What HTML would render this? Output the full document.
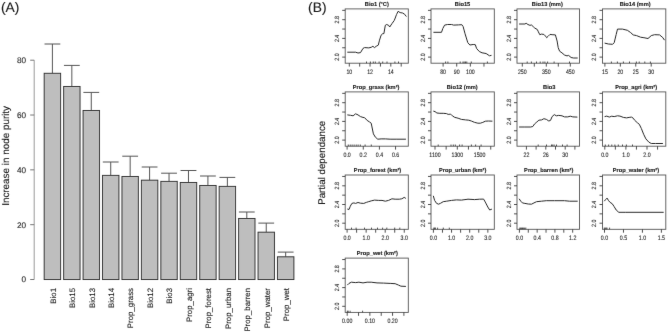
<!DOCTYPE html>
<html><head><meta charset="utf-8"><title>Figure</title>
<style>
html,body{margin:0;padding:0;background:#fff;}
body{width:668px;height:333px;overflow:hidden;}
svg{display:block;}
text{font-family:"Liberation Sans", sans-serif;text-rendering:geometricPrecision;stroke:currentColor;}
.S{stroke-width:0.12;}
.L{stroke-width:0.12;}
</style></head>
<body>
<svg width="668" height="333" viewBox="0 0 668 333" font-family='"Liberation Sans", sans-serif'>
<defs><filter id="b" x="0" y="0" width="668" height="333" filterUnits="userSpaceOnUse" primitiveUnits="userSpaceOnUse"><feConvolveMatrix order="3" kernelMatrix="0.00276 0.04704 0.00276 0.04704 0.80077 0.04704 0.00276 0.04704 0.00276" divisor="1" preserveAlpha="false" edgeMode="none"/></filter></defs>
<rect width="668" height="333" fill="#fff"/>
<g filter="url(#b)">
<text class="L" x="0.9" y="11.7" font-size="13.8" fill="#1a1a1a" color="#1a1a1a">(A)</text>
<text class="L" x="308.1" y="11.7" font-size="13.8" fill="#1a1a1a" color="#1a1a1a">(B)</text>
<line x1="34.2" y1="60.2" x2="34.2" y2="279.5" stroke="#9a9a9a" stroke-width="1"/>
<line x1="30.2" y1="279.5" x2="34.2" y2="279.5" stroke="#777" stroke-width="1"/>
<text class="L" x="26" y="282.4" font-size="8.2" text-anchor="end" fill="#2a2a2a" color="#2a2a2a">0</text>
<line x1="30.2" y1="224.68" x2="34.2" y2="224.68" stroke="#777" stroke-width="1"/>
<text class="L" x="26" y="227.58" font-size="8.2" text-anchor="end" fill="#2a2a2a" color="#2a2a2a">20</text>
<line x1="30.2" y1="169.85" x2="34.2" y2="169.85" stroke="#777" stroke-width="1"/>
<text class="L" x="26" y="172.75" font-size="8.2" text-anchor="end" fill="#2a2a2a" color="#2a2a2a">40</text>
<line x1="30.2" y1="115.03" x2="34.2" y2="115.03" stroke="#777" stroke-width="1"/>
<text class="L" x="26" y="117.93" font-size="8.2" text-anchor="end" fill="#2a2a2a" color="#2a2a2a">60</text>
<line x1="30.2" y1="60.2" x2="34.2" y2="60.2" stroke="#777" stroke-width="1"/>
<text class="L" x="26" y="63.1" font-size="8.2" text-anchor="end" fill="#2a2a2a" color="#2a2a2a">80</text>
<text class="L" transform="translate(9.2,155.9) rotate(-90)" font-size="9.9" text-anchor="middle" fill="#1a1a1a" color="#1a1a1a">Increase in node purity</text>
<line x1="52.4" y1="44" x2="52.4" y2="73.3" stroke="#555" stroke-width="1"/>
<line x1="44.5" y1="44" x2="60.3" y2="44" stroke="#555" stroke-width="1"/>
<rect x="44.2" y="73.3" width="16.4" height="206.2" fill="#bebebe" stroke="#333" stroke-width="1"/>
<text class="L" transform="translate(55.7,288.0) rotate(-90)" font-size="7.85" text-anchor="end" fill="#1a1a1a" color="#1a1a1a">Bio1</text>
<line x1="71.84" y1="65.4" x2="71.84" y2="86.5" stroke="#555" stroke-width="1"/>
<line x1="63.94" y1="65.4" x2="79.74" y2="65.4" stroke="#555" stroke-width="1"/>
<rect x="63.64" y="86.5" width="16.4" height="193" fill="#bebebe" stroke="#333" stroke-width="1"/>
<text class="L" transform="translate(75.14,288.0) rotate(-90)" font-size="7.85" text-anchor="end" fill="#1a1a1a" color="#1a1a1a">Bio15</text>
<line x1="91.28" y1="92.4" x2="91.28" y2="110.5" stroke="#555" stroke-width="1"/>
<line x1="83.38" y1="92.4" x2="99.18" y2="92.4" stroke="#555" stroke-width="1"/>
<rect x="83.08" y="110.5" width="16.4" height="169" fill="#bebebe" stroke="#333" stroke-width="1"/>
<text class="L" transform="translate(94.58,288.0) rotate(-90)" font-size="7.85" text-anchor="end" fill="#1a1a1a" color="#1a1a1a">Bio13</text>
<line x1="110.72" y1="162" x2="110.72" y2="175.4" stroke="#555" stroke-width="1"/>
<line x1="102.82" y1="162" x2="118.62" y2="162" stroke="#555" stroke-width="1"/>
<rect x="102.52" y="175.4" width="16.4" height="104.1" fill="#bebebe" stroke="#333" stroke-width="1"/>
<text class="L" transform="translate(114.02,288.0) rotate(-90)" font-size="7.85" text-anchor="end" fill="#1a1a1a" color="#1a1a1a">Bio14</text>
<line x1="130.16" y1="156.2" x2="130.16" y2="176.5" stroke="#555" stroke-width="1"/>
<line x1="122.26" y1="156.2" x2="138.06" y2="156.2" stroke="#555" stroke-width="1"/>
<rect x="121.96" y="176.5" width="16.4" height="103" fill="#bebebe" stroke="#333" stroke-width="1"/>
<text class="L" transform="translate(133.46,288.0) rotate(-90)" font-size="7.85" text-anchor="end" fill="#1a1a1a" color="#1a1a1a">Prop_grass</text>
<line x1="149.6" y1="167" x2="149.6" y2="180.2" stroke="#555" stroke-width="1"/>
<line x1="141.7" y1="167" x2="157.5" y2="167" stroke="#555" stroke-width="1"/>
<rect x="141.4" y="180.2" width="16.4" height="99.3" fill="#bebebe" stroke="#333" stroke-width="1"/>
<text class="L" transform="translate(152.9,288.0) rotate(-90)" font-size="7.85" text-anchor="end" fill="#1a1a1a" color="#1a1a1a">Bio12</text>
<line x1="169.04" y1="173.2" x2="169.04" y2="181.4" stroke="#555" stroke-width="1"/>
<line x1="161.14" y1="173.2" x2="176.94" y2="173.2" stroke="#555" stroke-width="1"/>
<rect x="160.84" y="181.4" width="16.4" height="98.1" fill="#bebebe" stroke="#333" stroke-width="1"/>
<text class="L" transform="translate(172.34,288.0) rotate(-90)" font-size="7.85" text-anchor="end" fill="#1a1a1a" color="#1a1a1a">Bio3</text>
<line x1="188.48" y1="170.5" x2="188.48" y2="182.5" stroke="#555" stroke-width="1"/>
<line x1="180.58" y1="170.5" x2="196.38" y2="170.5" stroke="#555" stroke-width="1"/>
<rect x="180.28" y="182.5" width="16.4" height="97" fill="#bebebe" stroke="#333" stroke-width="1"/>
<text class="L" transform="translate(191.78,288.0) rotate(-90)" font-size="7.85" text-anchor="end" fill="#1a1a1a" color="#1a1a1a">Prop_agri</text>
<line x1="207.92" y1="176" x2="207.92" y2="185.5" stroke="#555" stroke-width="1"/>
<line x1="200.02" y1="176" x2="215.82" y2="176" stroke="#555" stroke-width="1"/>
<rect x="199.72" y="185.5" width="16.4" height="94" fill="#bebebe" stroke="#333" stroke-width="1"/>
<text class="L" transform="translate(211.22,288.0) rotate(-90)" font-size="7.85" text-anchor="end" fill="#1a1a1a" color="#1a1a1a">Prop_forest</text>
<line x1="227.36" y1="177.4" x2="227.36" y2="186.4" stroke="#555" stroke-width="1"/>
<line x1="219.46" y1="177.4" x2="235.26" y2="177.4" stroke="#555" stroke-width="1"/>
<rect x="219.16" y="186.4" width="16.4" height="93.1" fill="#bebebe" stroke="#333" stroke-width="1"/>
<text class="L" transform="translate(230.66,288.0) rotate(-90)" font-size="7.85" text-anchor="end" fill="#1a1a1a" color="#1a1a1a">Prop_urban</text>
<line x1="246.8" y1="212" x2="246.8" y2="218.5" stroke="#555" stroke-width="1"/>
<line x1="238.9" y1="212" x2="254.7" y2="212" stroke="#555" stroke-width="1"/>
<rect x="238.6" y="218.5" width="16.4" height="61" fill="#bebebe" stroke="#333" stroke-width="1"/>
<text class="L" transform="translate(250.1,288.0) rotate(-90)" font-size="7.85" text-anchor="end" fill="#1a1a1a" color="#1a1a1a">Prop_barren</text>
<line x1="266.24" y1="223.1" x2="266.24" y2="232.2" stroke="#555" stroke-width="1"/>
<line x1="258.34" y1="223.1" x2="274.14" y2="223.1" stroke="#555" stroke-width="1"/>
<rect x="258.04" y="232.2" width="16.4" height="47.3" fill="#bebebe" stroke="#333" stroke-width="1"/>
<text class="L" transform="translate(269.54,288.0) rotate(-90)" font-size="7.85" text-anchor="end" fill="#1a1a1a" color="#1a1a1a">Prop_water</text>
<line x1="285.68" y1="252.1" x2="285.68" y2="256.8" stroke="#555" stroke-width="1"/>
<line x1="277.78" y1="252.1" x2="293.58" y2="252.1" stroke="#555" stroke-width="1"/>
<rect x="277.48" y="256.8" width="16.4" height="22.7" fill="#bebebe" stroke="#333" stroke-width="1"/>
<text class="L" transform="translate(288.98,288.0) rotate(-90)" font-size="7.85" text-anchor="end" fill="#1a1a1a" color="#1a1a1a">Prop_wet</text>
<text class="L" transform="translate(325.3,162.8) rotate(-90)" font-size="9.75" text-anchor="middle" fill="#1a1a1a" color="#1a1a1a">Partial dependance</text>
<text class="S" x="376.85" y="6" font-size="5.7" font-weight="bold" text-anchor="middle" fill="#1a1a1a" color="#1a1a1a">Bio1 (°C)</text>
<rect x="345.2" y="8.9" width="63.1" height="54.3" fill="none" stroke="#555" stroke-width="0.9"/>
<line x1="342.2" y1="57.1" x2="345.2" y2="57.1" stroke="#333" stroke-width="0.85"/>
<line x1="342.2" y1="47.75" x2="345.2" y2="47.75" stroke="#333" stroke-width="0.85"/>
<line x1="342.2" y1="38.4" x2="345.2" y2="38.4" stroke="#333" stroke-width="0.85"/>
<line x1="342.2" y1="29.05" x2="345.2" y2="29.05" stroke="#333" stroke-width="0.85"/>
<line x1="342.2" y1="19.7" x2="345.2" y2="19.7" stroke="#333" stroke-width="0.85"/>
<line x1="342.2" y1="10.35" x2="345.2" y2="10.35" stroke="#333" stroke-width="0.85"/>
<text class="S" transform="translate(338.9,57.1) rotate(-90) scale(0.86,1)" font-size="6.2" text-anchor="middle" fill="#2a2a2a" color="#2a2a2a">2.0</text>
<text class="S" transform="translate(338.9,38.4) rotate(-90) scale(0.86,1)" font-size="6.2" text-anchor="middle" fill="#2a2a2a" color="#2a2a2a">2.4</text>
<text class="S" transform="translate(338.9,19.7) rotate(-90) scale(0.86,1)" font-size="6.2" text-anchor="middle" fill="#2a2a2a" color="#2a2a2a">2.8</text>
<line x1="349.3" y1="63.2" x2="349.3" y2="66.6" stroke="#333" stroke-width="0.85"/>
<line x1="359.68" y1="63.2" x2="359.68" y2="66.6" stroke="#333" stroke-width="0.85"/>
<line x1="370.06" y1="63.2" x2="370.06" y2="66.6" stroke="#333" stroke-width="0.85"/>
<line x1="380.44" y1="63.2" x2="380.44" y2="66.6" stroke="#333" stroke-width="0.85"/>
<line x1="390.82" y1="63.2" x2="390.82" y2="66.6" stroke="#333" stroke-width="0.85"/>
<line x1="401.2" y1="63.2" x2="401.2" y2="66.6" stroke="#333" stroke-width="0.85"/>
<text class="S" transform="translate(349.3,73.6) scale(0.82,1)" font-size="6.4" text-anchor="middle" fill="#2a2a2a" color="#2a2a2a">10</text>
<text class="S" transform="translate(370.06,73.6) scale(0.82,1)" font-size="6.4" text-anchor="middle" fill="#2a2a2a" color="#2a2a2a">12</text>
<text class="S" transform="translate(390.82,73.6) scale(0.82,1)" font-size="6.4" text-anchor="middle" fill="#2a2a2a" color="#2a2a2a">14</text>
<line x1="366.5" y1="61.5" x2="366.5" y2="63.2" stroke="#2a2a2a" stroke-width="0.8"/>
<line x1="370.4" y1="61.5" x2="370.4" y2="63.2" stroke="#2a2a2a" stroke-width="0.8"/>
<line x1="373.3" y1="61.5" x2="373.3" y2="63.2" stroke="#2a2a2a" stroke-width="0.8"/>
<line x1="375.3" y1="61.5" x2="375.3" y2="63.2" stroke="#2a2a2a" stroke-width="0.8"/>
<line x1="379.1" y1="61.5" x2="379.1" y2="63.2" stroke="#2a2a2a" stroke-width="0.8"/>
<line x1="382.7" y1="61.5" x2="382.7" y2="63.2" stroke="#2a2a2a" stroke-width="0.8"/>
<line x1="387" y1="61.5" x2="387" y2="63.2" stroke="#2a2a2a" stroke-width="0.8"/>
<line x1="394.9" y1="61.5" x2="394.9" y2="63.2" stroke="#2a2a2a" stroke-width="0.8"/>
<line x1="398.5" y1="61.5" x2="398.5" y2="63.2" stroke="#2a2a2a" stroke-width="0.8"/>
<polyline points="347.3,52.2 355.6,52.2 358,53 360.5,52.6 363,48.4 364.6,47.6 368.8,47.9 371.2,47.3 372.9,46.3 374.5,47.6 376.2,46.3 378.3,45.1 379.5,40.2 381.1,35.2 382.8,33.6 383.9,33.6 385.3,25.3 386.6,24.5 388.6,25.3 389.7,27 391.9,23.7 394.3,20.4 396.5,14.6 398.1,11.3 400.1,12.6 402.6,13 404.7,14.3 406.4,16.6" fill="none" stroke="#2a2a2a" stroke-width="1" stroke-linejoin="round"/>
<text class="S" x="462.55" y="6" font-size="5.7" font-weight="bold" text-anchor="middle" fill="#1a1a1a" color="#1a1a1a">Bio15</text>
<rect x="431" y="8.9" width="63.3" height="54.3" fill="none" stroke="#555" stroke-width="0.9"/>
<line x1="428" y1="57.1" x2="431" y2="57.1" stroke="#333" stroke-width="0.85"/>
<line x1="428" y1="47.75" x2="431" y2="47.75" stroke="#333" stroke-width="0.85"/>
<line x1="428" y1="38.4" x2="431" y2="38.4" stroke="#333" stroke-width="0.85"/>
<line x1="428" y1="29.05" x2="431" y2="29.05" stroke="#333" stroke-width="0.85"/>
<line x1="428" y1="19.7" x2="431" y2="19.7" stroke="#333" stroke-width="0.85"/>
<line x1="428" y1="10.35" x2="431" y2="10.35" stroke="#333" stroke-width="0.85"/>
<text class="S" transform="translate(424.7,57.1) rotate(-90) scale(0.86,1)" font-size="6.2" text-anchor="middle" fill="#2a2a2a" color="#2a2a2a">2.0</text>
<text class="S" transform="translate(424.7,38.4) rotate(-90) scale(0.86,1)" font-size="6.2" text-anchor="middle" fill="#2a2a2a" color="#2a2a2a">2.4</text>
<text class="S" transform="translate(424.7,19.7) rotate(-90) scale(0.86,1)" font-size="6.2" text-anchor="middle" fill="#2a2a2a" color="#2a2a2a">2.8</text>
<line x1="443.1" y1="63.2" x2="443.1" y2="66.6" stroke="#333" stroke-width="0.85"/>
<line x1="456.72" y1="63.2" x2="456.72" y2="66.6" stroke="#333" stroke-width="0.85"/>
<line x1="470.34" y1="63.2" x2="470.34" y2="66.6" stroke="#333" stroke-width="0.85"/>
<line x1="483.96" y1="63.2" x2="483.96" y2="66.6" stroke="#333" stroke-width="0.85"/>
<text class="S" transform="translate(443.1,73.6) scale(0.82,1)" font-size="6.4" text-anchor="middle" fill="#2a2a2a" color="#2a2a2a">80</text>
<text class="S" transform="translate(456.72,73.6) scale(0.82,1)" font-size="6.4" text-anchor="middle" fill="#2a2a2a" color="#2a2a2a">90</text>
<text class="S" transform="translate(470.34,73.6) scale(0.82,1)" font-size="6.4" text-anchor="middle" fill="#2a2a2a" color="#2a2a2a">100</text>
<line x1="445.6" y1="61.5" x2="445.6" y2="63.2" stroke="#2a2a2a" stroke-width="0.8"/>
<line x1="447.9" y1="61.5" x2="447.9" y2="63.2" stroke="#2a2a2a" stroke-width="0.8"/>
<line x1="460.2" y1="61.5" x2="460.2" y2="63.2" stroke="#2a2a2a" stroke-width="0.8"/>
<line x1="463" y1="61.5" x2="463" y2="63.2" stroke="#2a2a2a" stroke-width="0.8"/>
<line x1="464.2" y1="61.5" x2="464.2" y2="63.2" stroke="#2a2a2a" stroke-width="0.8"/>
<line x1="465.5" y1="61.5" x2="465.5" y2="63.2" stroke="#2a2a2a" stroke-width="0.8"/>
<line x1="466.8" y1="61.5" x2="466.8" y2="63.2" stroke="#2a2a2a" stroke-width="0.8"/>
<line x1="471.3" y1="61.5" x2="471.3" y2="63.2" stroke="#2a2a2a" stroke-width="0.8"/>
<line x1="487.4" y1="61.5" x2="487.4" y2="63.2" stroke="#2a2a2a" stroke-width="0.8"/>
<polyline points="433.4,32.3 441.5,32.3 442.8,28.5 444.6,25.1 447.6,24.5 451.6,24.5 453.6,25.1 458.4,24.9 461.8,24.7 463.1,26.5 465.1,33.9 467.8,42.7 469.9,45 473.2,44.5 475.3,44.7 476.6,48.5 479.3,51.5 482,52.8 486.1,53.5 489.5,55.8 491.5,55.3" fill="none" stroke="#2a2a2a" stroke-width="1" stroke-linejoin="round"/>
<text class="S" x="547.35" y="6" font-size="5.7" font-weight="bold" text-anchor="middle" fill="#1a1a1a" color="#1a1a1a">Bio13 (mm)</text>
<rect x="517" y="8.9" width="62.5" height="54.3" fill="none" stroke="#555" stroke-width="0.9"/>
<line x1="514" y1="57.1" x2="517" y2="57.1" stroke="#333" stroke-width="0.85"/>
<line x1="514" y1="47.75" x2="517" y2="47.75" stroke="#333" stroke-width="0.85"/>
<line x1="514" y1="38.4" x2="517" y2="38.4" stroke="#333" stroke-width="0.85"/>
<line x1="514" y1="29.05" x2="517" y2="29.05" stroke="#333" stroke-width="0.85"/>
<line x1="514" y1="19.7" x2="517" y2="19.7" stroke="#333" stroke-width="0.85"/>
<line x1="514" y1="10.35" x2="517" y2="10.35" stroke="#333" stroke-width="0.85"/>
<text class="S" transform="translate(510.7,57.1) rotate(-90) scale(0.86,1)" font-size="6.2" text-anchor="middle" fill="#2a2a2a" color="#2a2a2a">2.0</text>
<text class="S" transform="translate(510.7,38.4) rotate(-90) scale(0.86,1)" font-size="6.2" text-anchor="middle" fill="#2a2a2a" color="#2a2a2a">2.4</text>
<text class="S" transform="translate(510.7,19.7) rotate(-90) scale(0.86,1)" font-size="6.2" text-anchor="middle" fill="#2a2a2a" color="#2a2a2a">2.8</text>
<line x1="522.3" y1="63.2" x2="522.3" y2="66.6" stroke="#333" stroke-width="0.85"/>
<line x1="534.3" y1="63.2" x2="534.3" y2="66.6" stroke="#333" stroke-width="0.85"/>
<line x1="546.3" y1="63.2" x2="546.3" y2="66.6" stroke="#333" stroke-width="0.85"/>
<line x1="558.3" y1="63.2" x2="558.3" y2="66.6" stroke="#333" stroke-width="0.85"/>
<line x1="570.3" y1="63.2" x2="570.3" y2="66.6" stroke="#333" stroke-width="0.85"/>
<text class="S" transform="translate(522.3,73.6) scale(0.82,1)" font-size="6.4" text-anchor="middle" fill="#2a2a2a" color="#2a2a2a">250</text>
<text class="S" transform="translate(546.3,73.6) scale(0.82,1)" font-size="6.4" text-anchor="middle" fill="#2a2a2a" color="#2a2a2a">350</text>
<text class="S" transform="translate(570.3,73.6) scale(0.82,1)" font-size="6.4" text-anchor="middle" fill="#2a2a2a" color="#2a2a2a">450</text>
<line x1="527.2" y1="61.5" x2="527.2" y2="63.2" stroke="#2a2a2a" stroke-width="0.8"/>
<line x1="531.4" y1="61.5" x2="531.4" y2="63.2" stroke="#2a2a2a" stroke-width="0.8"/>
<line x1="536.5" y1="61.5" x2="536.5" y2="63.2" stroke="#2a2a2a" stroke-width="0.8"/>
<line x1="540.2" y1="61.5" x2="540.2" y2="63.2" stroke="#2a2a2a" stroke-width="0.8"/>
<line x1="543" y1="61.5" x2="543" y2="63.2" stroke="#2a2a2a" stroke-width="0.8"/>
<line x1="544.9" y1="61.5" x2="544.9" y2="63.2" stroke="#2a2a2a" stroke-width="0.8"/>
<line x1="547.6" y1="61.5" x2="547.6" y2="63.2" stroke="#2a2a2a" stroke-width="0.8"/>
<line x1="554.1" y1="61.5" x2="554.1" y2="63.2" stroke="#2a2a2a" stroke-width="0.8"/>
<line x1="569.5" y1="61.5" x2="569.5" y2="63.2" stroke="#2a2a2a" stroke-width="0.8"/>
<polyline points="519.1,24 524.9,24 526.2,23.3 527.9,24.5 529.9,25.3 531.5,25 533.2,26.6 534.8,28.1 537.3,29.5 538.4,31.9 539.8,34.7 541.4,34.1 543.9,34.4 545.5,36.1 546.7,37.7 548,36.4 550,34.4 552.1,34.7 555.4,34.9 557.1,41 558.2,47.6 559.6,51.2 562,52.9 564.5,55 567,55.9 568.6,55.4 571.1,57.5 573.6,58 577.7,58" fill="none" stroke="#2a2a2a" stroke-width="1" stroke-linejoin="round"/>
<text class="S" x="635.15" y="6" font-size="5.7" font-weight="bold" text-anchor="middle" fill="#1a1a1a" color="#1a1a1a">Bio14 (mm)</text>
<rect x="602.5" y="8.9" width="63.3" height="54.3" fill="none" stroke="#555" stroke-width="0.9"/>
<line x1="599.5" y1="57.1" x2="602.5" y2="57.1" stroke="#333" stroke-width="0.85"/>
<line x1="599.5" y1="47.75" x2="602.5" y2="47.75" stroke="#333" stroke-width="0.85"/>
<line x1="599.5" y1="38.4" x2="602.5" y2="38.4" stroke="#333" stroke-width="0.85"/>
<line x1="599.5" y1="29.05" x2="602.5" y2="29.05" stroke="#333" stroke-width="0.85"/>
<line x1="599.5" y1="19.7" x2="602.5" y2="19.7" stroke="#333" stroke-width="0.85"/>
<line x1="599.5" y1="10.35" x2="602.5" y2="10.35" stroke="#333" stroke-width="0.85"/>
<text class="S" transform="translate(596.2,57.1) rotate(-90) scale(0.86,1)" font-size="6.2" text-anchor="middle" fill="#2a2a2a" color="#2a2a2a">2.0</text>
<text class="S" transform="translate(596.2,38.4) rotate(-90) scale(0.86,1)" font-size="6.2" text-anchor="middle" fill="#2a2a2a" color="#2a2a2a">2.4</text>
<text class="S" transform="translate(596.2,19.7) rotate(-90) scale(0.86,1)" font-size="6.2" text-anchor="middle" fill="#2a2a2a" color="#2a2a2a">2.8</text>
<line x1="604.9" y1="63.2" x2="604.9" y2="66.6" stroke="#333" stroke-width="0.85"/>
<line x1="620.33" y1="63.2" x2="620.33" y2="66.6" stroke="#333" stroke-width="0.85"/>
<line x1="635.77" y1="63.2" x2="635.77" y2="66.6" stroke="#333" stroke-width="0.85"/>
<line x1="651.2" y1="63.2" x2="651.2" y2="66.6" stroke="#333" stroke-width="0.85"/>
<text class="S" transform="translate(604.9,73.6) scale(0.82,1)" font-size="6.4" text-anchor="middle" fill="#2a2a2a" color="#2a2a2a">15</text>
<text class="S" transform="translate(620.33,73.6) scale(0.82,1)" font-size="6.4" text-anchor="middle" fill="#2a2a2a" color="#2a2a2a">20</text>
<text class="S" transform="translate(635.77,73.6) scale(0.82,1)" font-size="6.4" text-anchor="middle" fill="#2a2a2a" color="#2a2a2a">25</text>
<text class="S" transform="translate(651.2,73.6) scale(0.82,1)" font-size="6.4" text-anchor="middle" fill="#2a2a2a" color="#2a2a2a">30</text>
<line x1="611.4" y1="61.5" x2="611.4" y2="63.2" stroke="#2a2a2a" stroke-width="0.8"/>
<line x1="617.4" y1="61.5" x2="617.4" y2="63.2" stroke="#2a2a2a" stroke-width="0.8"/>
<line x1="623.4" y1="61.5" x2="623.4" y2="63.2" stroke="#2a2a2a" stroke-width="0.8"/>
<line x1="629.5" y1="61.5" x2="629.5" y2="63.2" stroke="#2a2a2a" stroke-width="0.8"/>
<line x1="636.4" y1="61.5" x2="636.4" y2="63.2" stroke="#2a2a2a" stroke-width="0.8"/>
<line x1="639.2" y1="61.5" x2="639.2" y2="63.2" stroke="#2a2a2a" stroke-width="0.8"/>
<line x1="644.8" y1="61.5" x2="644.8" y2="63.2" stroke="#2a2a2a" stroke-width="0.8"/>
<line x1="650.4" y1="61.5" x2="650.4" y2="63.2" stroke="#2a2a2a" stroke-width="0.8"/>
<polyline points="604.6,43.1 608.4,44 612.6,44.3 614.2,42.7 616.2,34.4 617.5,29.1 622.5,29.1 627.4,30.3 630.4,32.4 633.2,34.9 636.5,35.6 640.6,37.2 643.9,37.7 648,38.5 651.3,35.6 654.6,34.7 659.6,34.9 662.9,37.7 664.5,40.2" fill="none" stroke="#2a2a2a" stroke-width="1" stroke-linejoin="round"/>
<text class="S" x="376.05" y="89" font-size="5.7" font-weight="bold" text-anchor="middle" fill="#1a1a1a" color="#1a1a1a">Prop_grass (km²)</text>
<rect x="345.2" y="91.9" width="63.1" height="54.3" fill="none" stroke="#555" stroke-width="0.9"/>
<line x1="342.2" y1="140.1" x2="345.2" y2="140.1" stroke="#333" stroke-width="0.85"/>
<line x1="342.2" y1="130.75" x2="345.2" y2="130.75" stroke="#333" stroke-width="0.85"/>
<line x1="342.2" y1="121.4" x2="345.2" y2="121.4" stroke="#333" stroke-width="0.85"/>
<line x1="342.2" y1="112.05" x2="345.2" y2="112.05" stroke="#333" stroke-width="0.85"/>
<line x1="342.2" y1="102.7" x2="345.2" y2="102.7" stroke="#333" stroke-width="0.85"/>
<line x1="342.2" y1="93.35" x2="345.2" y2="93.35" stroke="#333" stroke-width="0.85"/>
<text class="S" transform="translate(338.9,140.1) rotate(-90) scale(0.86,1)" font-size="6.2" text-anchor="middle" fill="#2a2a2a" color="#2a2a2a">2.0</text>
<text class="S" transform="translate(338.9,121.4) rotate(-90) scale(0.86,1)" font-size="6.2" text-anchor="middle" fill="#2a2a2a" color="#2a2a2a">2.4</text>
<text class="S" transform="translate(338.9,102.7) rotate(-90) scale(0.86,1)" font-size="6.2" text-anchor="middle" fill="#2a2a2a" color="#2a2a2a">2.8</text>
<line x1="347.1" y1="146.2" x2="347.1" y2="149.6" stroke="#333" stroke-width="0.85"/>
<line x1="363.25" y1="146.2" x2="363.25" y2="149.6" stroke="#333" stroke-width="0.85"/>
<line x1="379.4" y1="146.2" x2="379.4" y2="149.6" stroke="#333" stroke-width="0.85"/>
<line x1="395.55" y1="146.2" x2="395.55" y2="149.6" stroke="#333" stroke-width="0.85"/>
<text class="S" transform="translate(347.1,156.6) scale(0.82,1)" font-size="6.4" text-anchor="middle" fill="#2a2a2a" color="#2a2a2a">0.0</text>
<text class="S" transform="translate(363.25,156.6) scale(0.82,1)" font-size="6.4" text-anchor="middle" fill="#2a2a2a" color="#2a2a2a">0.2</text>
<text class="S" transform="translate(379.4,156.6) scale(0.82,1)" font-size="6.4" text-anchor="middle" fill="#2a2a2a" color="#2a2a2a">0.4</text>
<text class="S" transform="translate(395.55,156.6) scale(0.82,1)" font-size="6.4" text-anchor="middle" fill="#2a2a2a" color="#2a2a2a">0.6</text>
<line x1="348.3" y1="144.5" x2="348.3" y2="146.2" stroke="#2a2a2a" stroke-width="0.8"/>
<line x1="350.2" y1="144.5" x2="350.2" y2="146.2" stroke="#2a2a2a" stroke-width="0.8"/>
<line x1="352.1" y1="144.5" x2="352.1" y2="146.2" stroke="#2a2a2a" stroke-width="0.8"/>
<line x1="354.1" y1="144.5" x2="354.1" y2="146.2" stroke="#2a2a2a" stroke-width="0.8"/>
<line x1="356.2" y1="144.5" x2="356.2" y2="146.2" stroke="#2a2a2a" stroke-width="0.8"/>
<line x1="358.1" y1="144.5" x2="358.1" y2="146.2" stroke="#2a2a2a" stroke-width="0.8"/>
<line x1="360.3" y1="144.5" x2="360.3" y2="146.2" stroke="#2a2a2a" stroke-width="0.8"/>
<line x1="365.1" y1="144.5" x2="365.1" y2="146.2" stroke="#2a2a2a" stroke-width="0.8"/>
<line x1="371.3" y1="144.5" x2="371.3" y2="146.2" stroke="#2a2a2a" stroke-width="0.8"/>
<polyline points="347.3,114.9 350.6,115.3 353.1,115.8 355.6,113.8 358,114.9 360.5,116.6 363,117.4 364.6,117.7 367.1,120.4 369.6,122 371.2,123.2 372.4,129 373.4,133.9 375.4,137.2 377.8,139.2 381.1,138.9 385.3,138.9 390.2,139.2 396.8,139.2 405.9,139.2" fill="none" stroke="#2a2a2a" stroke-width="1" stroke-linejoin="round"/>
<text class="S" x="462.25" y="89" font-size="5.7" font-weight="bold" text-anchor="middle" fill="#1a1a1a" color="#1a1a1a">Bio12 (mm)</text>
<rect x="431" y="91.9" width="63.3" height="54.3" fill="none" stroke="#555" stroke-width="0.9"/>
<line x1="428" y1="140.1" x2="431" y2="140.1" stroke="#333" stroke-width="0.85"/>
<line x1="428" y1="130.75" x2="431" y2="130.75" stroke="#333" stroke-width="0.85"/>
<line x1="428" y1="121.4" x2="431" y2="121.4" stroke="#333" stroke-width="0.85"/>
<line x1="428" y1="112.05" x2="431" y2="112.05" stroke="#333" stroke-width="0.85"/>
<line x1="428" y1="102.7" x2="431" y2="102.7" stroke="#333" stroke-width="0.85"/>
<line x1="428" y1="93.35" x2="431" y2="93.35" stroke="#333" stroke-width="0.85"/>
<text class="S" transform="translate(424.7,140.1) rotate(-90) scale(0.86,1)" font-size="6.2" text-anchor="middle" fill="#2a2a2a" color="#2a2a2a">2.0</text>
<text class="S" transform="translate(424.7,121.4) rotate(-90) scale(0.86,1)" font-size="6.2" text-anchor="middle" fill="#2a2a2a" color="#2a2a2a">2.4</text>
<text class="S" transform="translate(424.7,102.7) rotate(-90) scale(0.86,1)" font-size="6.2" text-anchor="middle" fill="#2a2a2a" color="#2a2a2a">2.8</text>
<line x1="435" y1="146.2" x2="435" y2="149.6" stroke="#333" stroke-width="0.85"/>
<line x1="446.15" y1="146.2" x2="446.15" y2="149.6" stroke="#333" stroke-width="0.85"/>
<line x1="457.3" y1="146.2" x2="457.3" y2="149.6" stroke="#333" stroke-width="0.85"/>
<line x1="468.45" y1="146.2" x2="468.45" y2="149.6" stroke="#333" stroke-width="0.85"/>
<line x1="479.6" y1="146.2" x2="479.6" y2="149.6" stroke="#333" stroke-width="0.85"/>
<line x1="490.75" y1="146.2" x2="490.75" y2="149.6" stroke="#333" stroke-width="0.85"/>
<text class="S" transform="translate(435,156.6) scale(0.82,1)" font-size="6.4" text-anchor="middle" fill="#2a2a2a" color="#2a2a2a">1100</text>
<text class="S" transform="translate(457.3,156.6) scale(0.82,1)" font-size="6.4" text-anchor="middle" fill="#2a2a2a" color="#2a2a2a">1300</text>
<text class="S" transform="translate(479.6,156.6) scale(0.82,1)" font-size="6.4" text-anchor="middle" fill="#2a2a2a" color="#2a2a2a">1500</text>
<line x1="438.2" y1="144.5" x2="438.2" y2="146.2" stroke="#2a2a2a" stroke-width="0.8"/>
<line x1="451" y1="144.5" x2="451" y2="146.2" stroke="#2a2a2a" stroke-width="0.8"/>
<line x1="453.3" y1="144.5" x2="453.3" y2="146.2" stroke="#2a2a2a" stroke-width="0.8"/>
<line x1="455.3" y1="144.5" x2="455.3" y2="146.2" stroke="#2a2a2a" stroke-width="0.8"/>
<line x1="459.6" y1="144.5" x2="459.6" y2="146.2" stroke="#2a2a2a" stroke-width="0.8"/>
<line x1="462.1" y1="144.5" x2="462.1" y2="146.2" stroke="#2a2a2a" stroke-width="0.8"/>
<line x1="471.4" y1="144.5" x2="471.4" y2="146.2" stroke="#2a2a2a" stroke-width="0.8"/>
<line x1="475.6" y1="144.5" x2="475.6" y2="146.2" stroke="#2a2a2a" stroke-width="0.8"/>
<line x1="481.1" y1="144.5" x2="481.1" y2="146.2" stroke="#2a2a2a" stroke-width="0.8"/>
<polyline points="433.3,111.1 435,111.6 436.9,113 439.9,113.3 443.2,113.3 446.5,113.6 448.2,114.4 450.6,114.1 452.3,115.8 454.8,117.4 458.1,118.2 461.4,119.4 465.5,119.9 468.8,120.2 471.3,121 474.6,122.4 477.9,123.2 480.3,123.2 482.8,122.4 485.3,121.2 488.6,121 492.4,121.2" fill="none" stroke="#2a2a2a" stroke-width="1" stroke-linejoin="round"/>
<text class="S" x="549.25" y="89" font-size="5.7" font-weight="bold" text-anchor="middle" fill="#1a1a1a" color="#1a1a1a">Bio3</text>
<rect x="517" y="91.9" width="62.5" height="54.3" fill="none" stroke="#555" stroke-width="0.9"/>
<line x1="514" y1="140.1" x2="517" y2="140.1" stroke="#333" stroke-width="0.85"/>
<line x1="514" y1="130.75" x2="517" y2="130.75" stroke="#333" stroke-width="0.85"/>
<line x1="514" y1="121.4" x2="517" y2="121.4" stroke="#333" stroke-width="0.85"/>
<line x1="514" y1="112.05" x2="517" y2="112.05" stroke="#333" stroke-width="0.85"/>
<line x1="514" y1="102.7" x2="517" y2="102.7" stroke="#333" stroke-width="0.85"/>
<line x1="514" y1="93.35" x2="517" y2="93.35" stroke="#333" stroke-width="0.85"/>
<text class="S" transform="translate(510.7,140.1) rotate(-90) scale(0.86,1)" font-size="6.2" text-anchor="middle" fill="#2a2a2a" color="#2a2a2a">2.0</text>
<text class="S" transform="translate(510.7,121.4) rotate(-90) scale(0.86,1)" font-size="6.2" text-anchor="middle" fill="#2a2a2a" color="#2a2a2a">2.4</text>
<text class="S" transform="translate(510.7,102.7) rotate(-90) scale(0.86,1)" font-size="6.2" text-anchor="middle" fill="#2a2a2a" color="#2a2a2a">2.8</text>
<line x1="526.4" y1="146.2" x2="526.4" y2="149.6" stroke="#333" stroke-width="0.85"/>
<line x1="536.1" y1="146.2" x2="536.1" y2="149.6" stroke="#333" stroke-width="0.85"/>
<line x1="545.8" y1="146.2" x2="545.8" y2="149.6" stroke="#333" stroke-width="0.85"/>
<line x1="555.5" y1="146.2" x2="555.5" y2="149.6" stroke="#333" stroke-width="0.85"/>
<line x1="565.2" y1="146.2" x2="565.2" y2="149.6" stroke="#333" stroke-width="0.85"/>
<line x1="574.9" y1="146.2" x2="574.9" y2="149.6" stroke="#333" stroke-width="0.85"/>
<text class="S" transform="translate(526.4,156.6) scale(0.82,1)" font-size="6.4" text-anchor="middle" fill="#2a2a2a" color="#2a2a2a">22</text>
<text class="S" transform="translate(545.8,156.6) scale(0.82,1)" font-size="6.4" text-anchor="middle" fill="#2a2a2a" color="#2a2a2a">26</text>
<text class="S" transform="translate(565.2,156.6) scale(0.82,1)" font-size="6.4" text-anchor="middle" fill="#2a2a2a" color="#2a2a2a">30</text>
<line x1="538.2" y1="144.5" x2="538.2" y2="146.2" stroke="#2a2a2a" stroke-width="0.8"/>
<line x1="546.5" y1="144.5" x2="546.5" y2="146.2" stroke="#2a2a2a" stroke-width="0.8"/>
<line x1="551.5" y1="144.5" x2="551.5" y2="146.2" stroke="#2a2a2a" stroke-width="0.8"/>
<line x1="552.7" y1="144.5" x2="552.7" y2="146.2" stroke="#2a2a2a" stroke-width="0.8"/>
<line x1="554.1" y1="144.5" x2="554.1" y2="146.2" stroke="#2a2a2a" stroke-width="0.8"/>
<line x1="556.5" y1="144.5" x2="556.5" y2="146.2" stroke="#2a2a2a" stroke-width="0.8"/>
<line x1="562.5" y1="144.5" x2="562.5" y2="146.2" stroke="#2a2a2a" stroke-width="0.8"/>
<line x1="567.1" y1="144.5" x2="567.1" y2="146.2" stroke="#2a2a2a" stroke-width="0.8"/>
<polyline points="519.1,127 524.9,127 530.7,127 532.8,126.5 534.5,124 536.8,122 538.9,120.2 541.7,119.9 543.9,118.7 546.4,119.4 548.8,121 550.5,120.4 552.1,116.6 554.3,114.6 556.3,115.8 558.7,115.4 562,115.8 564.5,116.9 567.8,116.9 570.3,116.2 572.8,116.9 577.4,117.1" fill="none" stroke="#2a2a2a" stroke-width="1" stroke-linejoin="round"/>
<text class="S" x="636.15" y="89" font-size="5.7" font-weight="bold" text-anchor="middle" fill="#1a1a1a" color="#1a1a1a">Prop_agri (km²)</text>
<rect x="602.5" y="91.9" width="63.3" height="54.3" fill="none" stroke="#555" stroke-width="0.9"/>
<line x1="599.5" y1="140.1" x2="602.5" y2="140.1" stroke="#333" stroke-width="0.85"/>
<line x1="599.5" y1="130.75" x2="602.5" y2="130.75" stroke="#333" stroke-width="0.85"/>
<line x1="599.5" y1="121.4" x2="602.5" y2="121.4" stroke="#333" stroke-width="0.85"/>
<line x1="599.5" y1="112.05" x2="602.5" y2="112.05" stroke="#333" stroke-width="0.85"/>
<line x1="599.5" y1="102.7" x2="602.5" y2="102.7" stroke="#333" stroke-width="0.85"/>
<line x1="599.5" y1="93.35" x2="602.5" y2="93.35" stroke="#333" stroke-width="0.85"/>
<text class="S" transform="translate(596.2,140.1) rotate(-90) scale(0.86,1)" font-size="6.2" text-anchor="middle" fill="#2a2a2a" color="#2a2a2a">2.0</text>
<text class="S" transform="translate(596.2,121.4) rotate(-90) scale(0.86,1)" font-size="6.2" text-anchor="middle" fill="#2a2a2a" color="#2a2a2a">2.4</text>
<text class="S" transform="translate(596.2,102.7) rotate(-90) scale(0.86,1)" font-size="6.2" text-anchor="middle" fill="#2a2a2a" color="#2a2a2a">2.8</text>
<line x1="604.8" y1="146.2" x2="604.8" y2="149.6" stroke="#333" stroke-width="0.85"/>
<line x1="615.35" y1="146.2" x2="615.35" y2="149.6" stroke="#333" stroke-width="0.85"/>
<line x1="625.9" y1="146.2" x2="625.9" y2="149.6" stroke="#333" stroke-width="0.85"/>
<line x1="636.45" y1="146.2" x2="636.45" y2="149.6" stroke="#333" stroke-width="0.85"/>
<line x1="647" y1="146.2" x2="647" y2="149.6" stroke="#333" stroke-width="0.85"/>
<line x1="657.55" y1="146.2" x2="657.55" y2="149.6" stroke="#333" stroke-width="0.85"/>
<text class="S" transform="translate(604.8,156.6) scale(0.82,1)" font-size="6.4" text-anchor="middle" fill="#2a2a2a" color="#2a2a2a">0.0</text>
<text class="S" transform="translate(625.9,156.6) scale(0.82,1)" font-size="6.4" text-anchor="middle" fill="#2a2a2a" color="#2a2a2a">1.0</text>
<text class="S" transform="translate(647,156.6) scale(0.82,1)" font-size="6.4" text-anchor="middle" fill="#2a2a2a" color="#2a2a2a">2.0</text>
<line x1="605.3" y1="144.5" x2="605.3" y2="146.2" stroke="#2a2a2a" stroke-width="0.8"/>
<line x1="608.6" y1="144.5" x2="608.6" y2="146.2" stroke="#2a2a2a" stroke-width="0.8"/>
<line x1="611.8" y1="144.5" x2="611.8" y2="146.2" stroke="#2a2a2a" stroke-width="0.8"/>
<line x1="614.9" y1="144.5" x2="614.9" y2="146.2" stroke="#2a2a2a" stroke-width="0.8"/>
<line x1="618.3" y1="144.5" x2="618.3" y2="146.2" stroke="#2a2a2a" stroke-width="0.8"/>
<line x1="622.5" y1="144.5" x2="622.5" y2="146.2" stroke="#2a2a2a" stroke-width="0.8"/>
<line x1="626.4" y1="144.5" x2="626.4" y2="146.2" stroke="#2a2a2a" stroke-width="0.8"/>
<line x1="632.5" y1="144.5" x2="632.5" y2="146.2" stroke="#2a2a2a" stroke-width="0.8"/>
<polyline points="604.6,116.6 606.8,116.1 609.3,117.1 611.7,116.2 614.2,116.6 617.5,115.8 620,116.1 623.3,117.4 626.6,117.9 629.1,117.4 631.5,117.1 633.2,118.2 634.8,120.4 637.3,122.7 639.3,124.3 641.4,128.6 643.6,134.2 645.9,138.9 648.9,142.2 651.3,143.5 655.5,143.5 662.9,143.5" fill="none" stroke="#2a2a2a" stroke-width="1" stroke-linejoin="round"/>
<text class="S" x="377.55" y="172.1" font-size="5.7" font-weight="bold" text-anchor="middle" fill="#1a1a1a" color="#1a1a1a">Prop_forest (km²)</text>
<rect x="345.2" y="175" width="63.1" height="54.3" fill="none" stroke="#555" stroke-width="0.9"/>
<line x1="342.2" y1="223.2" x2="345.2" y2="223.2" stroke="#333" stroke-width="0.85"/>
<line x1="342.2" y1="213.85" x2="345.2" y2="213.85" stroke="#333" stroke-width="0.85"/>
<line x1="342.2" y1="204.5" x2="345.2" y2="204.5" stroke="#333" stroke-width="0.85"/>
<line x1="342.2" y1="195.15" x2="345.2" y2="195.15" stroke="#333" stroke-width="0.85"/>
<line x1="342.2" y1="185.8" x2="345.2" y2="185.8" stroke="#333" stroke-width="0.85"/>
<line x1="342.2" y1="176.45" x2="345.2" y2="176.45" stroke="#333" stroke-width="0.85"/>
<text class="S" transform="translate(338.9,223.2) rotate(-90) scale(0.86,1)" font-size="6.2" text-anchor="middle" fill="#2a2a2a" color="#2a2a2a">2.0</text>
<text class="S" transform="translate(338.9,204.5) rotate(-90) scale(0.86,1)" font-size="6.2" text-anchor="middle" fill="#2a2a2a" color="#2a2a2a">2.4</text>
<text class="S" transform="translate(338.9,185.8) rotate(-90) scale(0.86,1)" font-size="6.2" text-anchor="middle" fill="#2a2a2a" color="#2a2a2a">2.8</text>
<line x1="347.1" y1="229.3" x2="347.1" y2="232.7" stroke="#333" stroke-width="0.85"/>
<line x1="356.62" y1="229.3" x2="356.62" y2="232.7" stroke="#333" stroke-width="0.85"/>
<line x1="366.15" y1="229.3" x2="366.15" y2="232.7" stroke="#333" stroke-width="0.85"/>
<line x1="375.68" y1="229.3" x2="375.68" y2="232.7" stroke="#333" stroke-width="0.85"/>
<line x1="385.2" y1="229.3" x2="385.2" y2="232.7" stroke="#333" stroke-width="0.85"/>
<line x1="394.73" y1="229.3" x2="394.73" y2="232.7" stroke="#333" stroke-width="0.85"/>
<line x1="404.25" y1="229.3" x2="404.25" y2="232.7" stroke="#333" stroke-width="0.85"/>
<text class="S" transform="translate(347.1,239.7) scale(0.82,1)" font-size="6.4" text-anchor="middle" fill="#2a2a2a" color="#2a2a2a">0.0</text>
<text class="S" transform="translate(366.15,239.7) scale(0.82,1)" font-size="6.4" text-anchor="middle" fill="#2a2a2a" color="#2a2a2a">1.0</text>
<text class="S" transform="translate(385.2,239.7) scale(0.82,1)" font-size="6.4" text-anchor="middle" fill="#2a2a2a" color="#2a2a2a">2.0</text>
<text class="S" transform="translate(404.25,239.7) scale(0.82,1)" font-size="6.4" text-anchor="middle" fill="#2a2a2a" color="#2a2a2a">3.0</text>
<line x1="351.5" y1="227.6" x2="351.5" y2="229.3" stroke="#2a2a2a" stroke-width="0.8"/>
<line x1="356.1" y1="227.6" x2="356.1" y2="229.3" stroke="#2a2a2a" stroke-width="0.8"/>
<line x1="364.5" y1="227.6" x2="364.5" y2="229.3" stroke="#2a2a2a" stroke-width="0.8"/>
<line x1="371.5" y1="227.6" x2="371.5" y2="229.3" stroke="#2a2a2a" stroke-width="0.8"/>
<line x1="377.5" y1="227.6" x2="377.5" y2="229.3" stroke="#2a2a2a" stroke-width="0.8"/>
<line x1="382.6" y1="227.6" x2="382.6" y2="229.3" stroke="#2a2a2a" stroke-width="0.8"/>
<line x1="386.8" y1="227.6" x2="386.8" y2="229.3" stroke="#2a2a2a" stroke-width="0.8"/>
<line x1="394.7" y1="227.6" x2="394.7" y2="229.3" stroke="#2a2a2a" stroke-width="0.8"/>
<line x1="399.8" y1="227.6" x2="399.8" y2="229.3" stroke="#2a2a2a" stroke-width="0.8"/>
<polyline points="347.3,209 349,209.5 350.3,206.2 351.9,203.4 353.9,202.9 355.6,203.4 358,202.5 360.5,203.2 363.8,203.4 366.3,202.4 368.8,201.6 371.2,200.9 374.5,200.1 378.7,200.4 382,200.4 385.3,201.2 388.6,200.4 391.9,198.8 395.2,199.2 399.3,199.2 401.8,198.8 404.2,197.4 405.9,198.4" fill="none" stroke="#2a2a2a" stroke-width="1" stroke-linejoin="round"/>
<text class="S" x="462.65" y="172.1" font-size="5.7" font-weight="bold" text-anchor="middle" fill="#1a1a1a" color="#1a1a1a">Prop_urban (km²)</text>
<rect x="431" y="175" width="63.3" height="54.3" fill="none" stroke="#555" stroke-width="0.9"/>
<line x1="428" y1="223.2" x2="431" y2="223.2" stroke="#333" stroke-width="0.85"/>
<line x1="428" y1="213.85" x2="431" y2="213.85" stroke="#333" stroke-width="0.85"/>
<line x1="428" y1="204.5" x2="431" y2="204.5" stroke="#333" stroke-width="0.85"/>
<line x1="428" y1="195.15" x2="431" y2="195.15" stroke="#333" stroke-width="0.85"/>
<line x1="428" y1="185.8" x2="431" y2="185.8" stroke="#333" stroke-width="0.85"/>
<line x1="428" y1="176.45" x2="431" y2="176.45" stroke="#333" stroke-width="0.85"/>
<text class="S" transform="translate(424.7,223.2) rotate(-90) scale(0.86,1)" font-size="6.2" text-anchor="middle" fill="#2a2a2a" color="#2a2a2a">2.0</text>
<text class="S" transform="translate(424.7,204.5) rotate(-90) scale(0.86,1)" font-size="6.2" text-anchor="middle" fill="#2a2a2a" color="#2a2a2a">2.4</text>
<text class="S" transform="translate(424.7,185.8) rotate(-90) scale(0.86,1)" font-size="6.2" text-anchor="middle" fill="#2a2a2a" color="#2a2a2a">2.8</text>
<line x1="433.4" y1="229.3" x2="433.4" y2="232.7" stroke="#333" stroke-width="0.85"/>
<line x1="442.47" y1="229.3" x2="442.47" y2="232.7" stroke="#333" stroke-width="0.85"/>
<line x1="451.55" y1="229.3" x2="451.55" y2="232.7" stroke="#333" stroke-width="0.85"/>
<line x1="460.62" y1="229.3" x2="460.62" y2="232.7" stroke="#333" stroke-width="0.85"/>
<line x1="469.7" y1="229.3" x2="469.7" y2="232.7" stroke="#333" stroke-width="0.85"/>
<line x1="478.77" y1="229.3" x2="478.77" y2="232.7" stroke="#333" stroke-width="0.85"/>
<line x1="487.85" y1="229.3" x2="487.85" y2="232.7" stroke="#333" stroke-width="0.85"/>
<text class="S" transform="translate(433.4,239.7) scale(0.82,1)" font-size="6.4" text-anchor="middle" fill="#2a2a2a" color="#2a2a2a">0.0</text>
<text class="S" transform="translate(451.55,239.7) scale(0.82,1)" font-size="6.4" text-anchor="middle" fill="#2a2a2a" color="#2a2a2a">1.0</text>
<text class="S" transform="translate(469.7,239.7) scale(0.82,1)" font-size="6.4" text-anchor="middle" fill="#2a2a2a" color="#2a2a2a">2.0</text>
<text class="S" transform="translate(487.85,239.7) scale(0.82,1)" font-size="6.4" text-anchor="middle" fill="#2a2a2a" color="#2a2a2a">3.0</text>
<line x1="433.8" y1="227.6" x2="433.8" y2="229.3" stroke="#2a2a2a" stroke-width="0.8"/>
<line x1="434.6" y1="227.6" x2="434.6" y2="229.3" stroke="#2a2a2a" stroke-width="0.8"/>
<line x1="435.4" y1="227.6" x2="435.4" y2="229.3" stroke="#2a2a2a" stroke-width="0.8"/>
<line x1="437.6" y1="227.6" x2="437.6" y2="229.3" stroke="#2a2a2a" stroke-width="0.8"/>
<line x1="443.3" y1="227.6" x2="443.3" y2="229.3" stroke="#2a2a2a" stroke-width="0.8"/>
<line x1="449.3" y1="227.6" x2="449.3" y2="229.3" stroke="#2a2a2a" stroke-width="0.8"/>
<polyline points="433.3,195.8 434.6,200.4 436.6,203.4 438.6,204.2 440.7,203.2 443.2,201.7 446.5,201.2 451.5,200.4 456.4,199.9 461.4,200.1 468,199.2 474.6,199.6 479.5,199.2 483.6,199.1 485.3,202.1 487.8,207 489.7,210 491.9,209.1" fill="none" stroke="#2a2a2a" stroke-width="1" stroke-linejoin="round"/>
<text class="S" x="548.75" y="172.1" font-size="5.7" font-weight="bold" text-anchor="middle" fill="#1a1a1a" color="#1a1a1a">Prop_barren (km²)</text>
<rect x="517" y="175" width="62.5" height="54.3" fill="none" stroke="#555" stroke-width="0.9"/>
<line x1="514" y1="223.2" x2="517" y2="223.2" stroke="#333" stroke-width="0.85"/>
<line x1="514" y1="213.85" x2="517" y2="213.85" stroke="#333" stroke-width="0.85"/>
<line x1="514" y1="204.5" x2="517" y2="204.5" stroke="#333" stroke-width="0.85"/>
<line x1="514" y1="195.15" x2="517" y2="195.15" stroke="#333" stroke-width="0.85"/>
<line x1="514" y1="185.8" x2="517" y2="185.8" stroke="#333" stroke-width="0.85"/>
<line x1="514" y1="176.45" x2="517" y2="176.45" stroke="#333" stroke-width="0.85"/>
<text class="S" transform="translate(510.7,223.2) rotate(-90) scale(0.86,1)" font-size="6.2" text-anchor="middle" fill="#2a2a2a" color="#2a2a2a">2.0</text>
<text class="S" transform="translate(510.7,204.5) rotate(-90) scale(0.86,1)" font-size="6.2" text-anchor="middle" fill="#2a2a2a" color="#2a2a2a">2.4</text>
<text class="S" transform="translate(510.7,185.8) rotate(-90) scale(0.86,1)" font-size="6.2" text-anchor="middle" fill="#2a2a2a" color="#2a2a2a">2.8</text>
<line x1="519.4" y1="229.3" x2="519.4" y2="232.7" stroke="#333" stroke-width="0.85"/>
<line x1="528.28" y1="229.3" x2="528.28" y2="232.7" stroke="#333" stroke-width="0.85"/>
<line x1="537.16" y1="229.3" x2="537.16" y2="232.7" stroke="#333" stroke-width="0.85"/>
<line x1="546.04" y1="229.3" x2="546.04" y2="232.7" stroke="#333" stroke-width="0.85"/>
<line x1="554.92" y1="229.3" x2="554.92" y2="232.7" stroke="#333" stroke-width="0.85"/>
<line x1="563.8" y1="229.3" x2="563.8" y2="232.7" stroke="#333" stroke-width="0.85"/>
<line x1="572.68" y1="229.3" x2="572.68" y2="232.7" stroke="#333" stroke-width="0.85"/>
<text class="S" transform="translate(519.4,239.7) scale(0.82,1)" font-size="6.4" text-anchor="middle" fill="#2a2a2a" color="#2a2a2a">0.0</text>
<text class="S" transform="translate(537.16,239.7) scale(0.82,1)" font-size="6.4" text-anchor="middle" fill="#2a2a2a" color="#2a2a2a">0.4</text>
<text class="S" transform="translate(554.92,239.7) scale(0.82,1)" font-size="6.4" text-anchor="middle" fill="#2a2a2a" color="#2a2a2a">0.8</text>
<text class="S" transform="translate(572.68,239.7) scale(0.82,1)" font-size="6.4" text-anchor="middle" fill="#2a2a2a" color="#2a2a2a">1.2</text>
<line x1="519.8" y1="227.6" x2="519.8" y2="229.3" stroke="#2a2a2a" stroke-width="0.8"/>
<line x1="520.7" y1="227.6" x2="520.7" y2="229.3" stroke="#2a2a2a" stroke-width="0.8"/>
<line x1="521.6" y1="227.6" x2="521.6" y2="229.3" stroke="#2a2a2a" stroke-width="0.8"/>
<line x1="522.5" y1="227.6" x2="522.5" y2="229.3" stroke="#2a2a2a" stroke-width="0.8"/>
<line x1="523.4" y1="227.6" x2="523.4" y2="229.3" stroke="#2a2a2a" stroke-width="0.8"/>
<line x1="524.6" y1="227.6" x2="524.6" y2="229.3" stroke="#2a2a2a" stroke-width="0.8"/>
<line x1="525.8" y1="227.6" x2="525.8" y2="229.3" stroke="#2a2a2a" stroke-width="0.8"/>
<polyline points="519.1,198.8 520.8,201.2 522.4,202.9 524.9,203.4 528.2,204 531.5,204.2 534,202.9 536.5,201.7 541.4,201.2 546.4,200.7 554.6,200.7 564.5,200.7 569.5,201.2 577.7,201.2" fill="none" stroke="#2a2a2a" stroke-width="1" stroke-linejoin="round"/>
<text class="S" x="635.95" y="172.1" font-size="5.7" font-weight="bold" text-anchor="middle" fill="#1a1a1a" color="#1a1a1a">Prop_water (km²)</text>
<rect x="602.5" y="175" width="63.3" height="54.3" fill="none" stroke="#555" stroke-width="0.9"/>
<line x1="599.5" y1="223.2" x2="602.5" y2="223.2" stroke="#333" stroke-width="0.85"/>
<line x1="599.5" y1="213.85" x2="602.5" y2="213.85" stroke="#333" stroke-width="0.85"/>
<line x1="599.5" y1="204.5" x2="602.5" y2="204.5" stroke="#333" stroke-width="0.85"/>
<line x1="599.5" y1="195.15" x2="602.5" y2="195.15" stroke="#333" stroke-width="0.85"/>
<line x1="599.5" y1="185.8" x2="602.5" y2="185.8" stroke="#333" stroke-width="0.85"/>
<line x1="599.5" y1="176.45" x2="602.5" y2="176.45" stroke="#333" stroke-width="0.85"/>
<text class="S" transform="translate(596.2,223.2) rotate(-90) scale(0.86,1)" font-size="6.2" text-anchor="middle" fill="#2a2a2a" color="#2a2a2a">2.0</text>
<text class="S" transform="translate(596.2,204.5) rotate(-90) scale(0.86,1)" font-size="6.2" text-anchor="middle" fill="#2a2a2a" color="#2a2a2a">2.4</text>
<text class="S" transform="translate(596.2,185.8) rotate(-90) scale(0.86,1)" font-size="6.2" text-anchor="middle" fill="#2a2a2a" color="#2a2a2a">2.8</text>
<line x1="604.5" y1="229.3" x2="604.5" y2="232.7" stroke="#333" stroke-width="0.85"/>
<line x1="623.47" y1="229.3" x2="623.47" y2="232.7" stroke="#333" stroke-width="0.85"/>
<line x1="642.43" y1="229.3" x2="642.43" y2="232.7" stroke="#333" stroke-width="0.85"/>
<line x1="661.39" y1="229.3" x2="661.39" y2="232.7" stroke="#333" stroke-width="0.85"/>
<text class="S" transform="translate(604.5,239.7) scale(0.82,1)" font-size="6.4" text-anchor="middle" fill="#2a2a2a" color="#2a2a2a">0.0</text>
<text class="S" transform="translate(623.47,239.7) scale(0.82,1)" font-size="6.4" text-anchor="middle" fill="#2a2a2a" color="#2a2a2a">0.5</text>
<text class="S" transform="translate(642.43,239.7) scale(0.82,1)" font-size="6.4" text-anchor="middle" fill="#2a2a2a" color="#2a2a2a">1.0</text>
<text class="S" transform="translate(661.39,239.7) scale(0.82,1)" font-size="6.4" text-anchor="middle" fill="#2a2a2a" color="#2a2a2a">1.5</text>
<line x1="604.3" y1="227.6" x2="604.3" y2="229.3" stroke="#2a2a2a" stroke-width="0.8"/>
<line x1="605.2" y1="227.6" x2="605.2" y2="229.3" stroke="#2a2a2a" stroke-width="0.8"/>
<line x1="606.1" y1="227.6" x2="606.1" y2="229.3" stroke="#2a2a2a" stroke-width="0.8"/>
<line x1="607" y1="227.6" x2="607" y2="229.3" stroke="#2a2a2a" stroke-width="0.8"/>
<line x1="609.6" y1="227.6" x2="609.6" y2="229.3" stroke="#2a2a2a" stroke-width="0.8"/>
<polyline points="604.3,201.2 605.6,199.6 607.1,198.1 608.4,200.4 610.1,202.4 612.2,203.7 614.2,206.7 616.2,210 618.8,212.3 625.8,212.3 663.7,212.3" fill="none" stroke="#2a2a2a" stroke-width="1" stroke-linejoin="round"/>
<text class="S" x="377.35" y="255.2" font-size="5.7" font-weight="bold" text-anchor="middle" fill="#1a1a1a" color="#1a1a1a">Prop_wet (km²)</text>
<rect x="345.2" y="258.1" width="63.1" height="54.3" fill="none" stroke="#555" stroke-width="0.9"/>
<line x1="342.2" y1="306.3" x2="345.2" y2="306.3" stroke="#333" stroke-width="0.85"/>
<line x1="342.2" y1="296.95" x2="345.2" y2="296.95" stroke="#333" stroke-width="0.85"/>
<line x1="342.2" y1="287.6" x2="345.2" y2="287.6" stroke="#333" stroke-width="0.85"/>
<line x1="342.2" y1="278.25" x2="345.2" y2="278.25" stroke="#333" stroke-width="0.85"/>
<line x1="342.2" y1="268.9" x2="345.2" y2="268.9" stroke="#333" stroke-width="0.85"/>
<line x1="342.2" y1="259.55" x2="345.2" y2="259.55" stroke="#333" stroke-width="0.85"/>
<text class="S" transform="translate(338.9,306.3) rotate(-90) scale(0.86,1)" font-size="6.2" text-anchor="middle" fill="#2a2a2a" color="#2a2a2a">2.0</text>
<text class="S" transform="translate(338.9,287.6) rotate(-90) scale(0.86,1)" font-size="6.2" text-anchor="middle" fill="#2a2a2a" color="#2a2a2a">2.4</text>
<text class="S" transform="translate(338.9,268.9) rotate(-90) scale(0.86,1)" font-size="6.2" text-anchor="middle" fill="#2a2a2a" color="#2a2a2a">2.8</text>
<line x1="347.2" y1="312.4" x2="347.2" y2="315.8" stroke="#333" stroke-width="0.85"/>
<line x1="358.54" y1="312.4" x2="358.54" y2="315.8" stroke="#333" stroke-width="0.85"/>
<line x1="369.88" y1="312.4" x2="369.88" y2="315.8" stroke="#333" stroke-width="0.85"/>
<line x1="381.22" y1="312.4" x2="381.22" y2="315.8" stroke="#333" stroke-width="0.85"/>
<line x1="392.56" y1="312.4" x2="392.56" y2="315.8" stroke="#333" stroke-width="0.85"/>
<line x1="403.9" y1="312.4" x2="403.9" y2="315.8" stroke="#333" stroke-width="0.85"/>
<text class="S" transform="translate(347.2,322.8) scale(0.82,1)" font-size="6.4" text-anchor="middle" fill="#2a2a2a" color="#2a2a2a">0.00</text>
<text class="S" transform="translate(369.88,322.8) scale(0.82,1)" font-size="6.4" text-anchor="middle" fill="#2a2a2a" color="#2a2a2a">0.10</text>
<text class="S" transform="translate(392.56,322.8) scale(0.82,1)" font-size="6.4" text-anchor="middle" fill="#2a2a2a" color="#2a2a2a">0.20</text>
<line x1="347.3" y1="310.7" x2="347.3" y2="312.4" stroke="#2a2a2a" stroke-width="0.8"/>
<line x1="348.2" y1="310.7" x2="348.2" y2="312.4" stroke="#2a2a2a" stroke-width="0.8"/>
<line x1="350.1" y1="310.7" x2="350.1" y2="312.4" stroke="#2a2a2a" stroke-width="0.8"/>
<line x1="362.6" y1="310.7" x2="362.6" y2="312.4" stroke="#2a2a2a" stroke-width="0.8"/>
<polyline points="347.3,285.1 349,283.4 351.4,282.2 355.6,282.6 358.9,282.2 363,282.9 367.1,282.2 371.2,282.2 377,282.9 383.6,283.1 390.2,283.4 395.2,283.7 398.5,285.1 400.9,286.2 405.9,286.4" fill="none" stroke="#2a2a2a" stroke-width="1" stroke-linejoin="round"/>
</g>
</svg>
</body></html>
